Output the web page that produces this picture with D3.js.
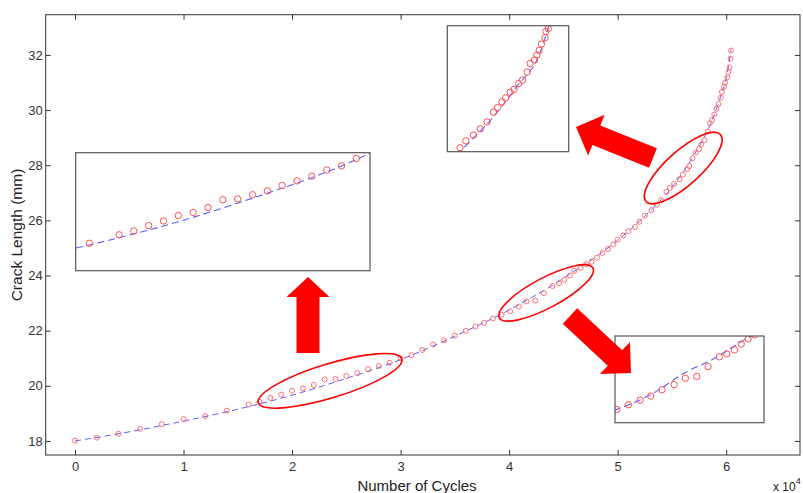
<!DOCTYPE html>
<html>
<head>
<meta charset="utf-8">
<script src="https://cdn.jsdelivr.net/npm/d3@7"></script>
<style>
  body { margin: 0; background: #fff; }
  text { font-family: "Liberation Sans", Arial, sans-serif; }
</style>
</head>
<body>
<svg width="803" height="493"></svg>
<script>
// measured points, cycles in units of 10^4
const cycles = [0, 0.2, 0.4, 0.6, 0.8, 1.0, 1.2, 1.4, 1.6, 1.7, 1.8, 1.9, 2.0, 2.1, 2.2, 2.3, 2.4, 2.5,
  2.6, 2.7, 2.8, 2.9, 3.0, 3.1, 3.2, 3.3, 3.4, 3.5, 3.6, 3.69, 3.77, 3.85, 3.93, 4.01, 4.09, 4.16,
  4.24, 4.32, 4.40, 4.46, 4.51, 4.56, 4.60, 4.66, 4.71, 4.76, 4.81, 4.86, 4.91, 4.96, 5.00, 5.05,
  5.10, 5.16, 5.20, 5.25, 5.31, 5.36, 5.40, 5.45, 5.48, 5.52, 5.57, 5.60, 5.64, 5.66, 5.69, 5.72,
  5.75, 5.77, 5.80, 5.83, 5.85, 5.87, 5.89, 5.91, 5.93, 5.95, 5.96, 5.98, 5.99, 6.01, 6.02, 6.03,
  6.04, 6.045];
const crack = [18.01, 18.12, 18.26, 18.44, 18.61, 18.79, 18.90, 19.10, 19.32, 19.42, 19.56, 19.68, 19.82,
  19.90, 20.03, 20.23, 20.25, 20.36, 20.46, 20.60, 20.72, 20.84, 21.00, 21.11, 21.30, 21.50, 21.65,
  21.82, 21.99, 22.15, 22.28, 22.44, 22.58, 22.70, 22.87, 23.06, 23.09, 23.36, 23.62, 23.72, 23.85,
  24.00, 24.17, 24.27, 24.41, 24.50, 24.65, 24.82, 24.96, 25.13, 25.30, 25.45, 25.61, 25.76, 25.95,
  26.17, 26.37, 26.57, 26.73, 27.04, 27.17, 27.32, 27.49, 27.66, 27.86, 27.97, 28.25, 28.46, 28.59,
  28.75, 28.91, 29.22, 29.52, 29.64, 29.84, 30.05, 30.22, 30.45, 30.66, 30.85, 31.00, 31.19, 31.38,
  31.55, 31.86, 32.16];

// fitted curve
const fitCycles = [0, 0.5, 1.0, 1.5, 2.0, 2.5, 3.0, 3.5, 4.0, 4.5, 5.0, 5.25, 5.5, 5.7, 5.85, 5.95, 6.0, 6.045];
const fitCrack = [18.0, 18.33, 18.72, 19.15, 19.66, 20.27, 20.95, 21.80, 22.75, 23.90, 25.28, 26.15,
  27.20, 28.35, 29.45, 30.50, 31.15, 32.2];

// top inset (zoom near 5.4-5.8)
const inset2Cycles = [5.442, 5.461, 5.486, 5.509, 5.531, 5.552, 5.565, 5.580, 5.592, 5.607, 5.620,
  5.635, 5.648, 5.663, 5.673, 5.687, 5.695, 5.703, 5.710, 5.722, 5.725, 5.733];
const inset2Crack = [26.87, 26.99, 27.09, 27.20, 27.32, 27.49, 27.57, 27.67, 27.74, 27.84, 27.89,
  27.99, 28.05, 28.19, 28.34, 28.40, 28.49, 28.57, 28.68, 28.79, 28.90, 28.95];
const inset2FitCycles = [5.430, 5.552, 5.628, 5.705, 5.736];
const inset2FitCrack = [26.75, 27.41, 27.93, 28.52, 29.02];

// bottom right inset (zoom near 3.9-4.5)
const inset3Cycles = [3.907, 3.954, 4.001, 4.044, 4.089, 4.138, 4.183, 4.229, 4.275, 4.320, 4.350,
  4.381, 4.408, 4.436, 4.462];
const inset3Crack = [22.63, 22.71, 22.79, 22.86, 22.97, 23.06, 23.17, 23.20, 23.37, 23.54, 23.59,
  23.66, 23.76, 23.85, 23.92];
const inset3FitCycles = [3.895, 4.054, 4.183, 4.283, 4.433, 4.48];
const inset3FitCrack = [22.61, 22.91, 23.27, 23.47, 23.86, 23.96];

const xTicks = [0, 1, 2, 3, 4, 5, 6];
const yTicks = [18, 20, 22, 24, 26, 28, 30, 32];

const svg = d3.select("svg");
const plotLeft = 45.7, plotRight = 800, plotTop = 14.7, plotBottom = 455;

const x = d3.scaleLinear().domain([-0.27, 6.68]).range([plotLeft, plotRight]);
const y = d3.scaleLinear().domain([17.49, 33.46]).range([plotBottom, plotTop]);

const points = cycles.map((c, i) => ({ c: c, a: crack[i] }));
const fit = fitCycles.map((c, i) => ({ c: c, a: fitCrack[i] }));

// axes, MATLAB style with inward ticks on all sides
function styleAxis(g) {
  g.select(".domain").remove();
  g.selectAll(".tick line").attr("stroke", "#333");
  g.selectAll(".tick text").attr("fill", "#333").style("font-size", "13px")
    .style("font-family", "'Liberation Sans', Arial, sans-serif");
}

svg.append("g")
  .attr("transform", `translate(0,${plotBottom})`)
  .call(d3.axisBottom(x).tickValues(xTicks).tickFormat(d3.format("d")).tickSize(-5).tickPadding(7))
  .call(styleAxis);
svg.append("g")
  .attr("transform", `translate(0,${plotTop})`)
  .call(d3.axisTop(x).tickValues(xTicks).tickSize(-5).tickFormat(""))
  .call(styleAxis);
svg.append("g")
  .attr("transform", `translate(${plotLeft},0)`)
  .call(d3.axisLeft(y).tickValues(yTicks).tickSize(-5).tickPadding(3))
  .call(styleAxis);
svg.append("g")
  .attr("transform", `translate(${plotRight},0)`)
  .call(d3.axisRight(y).tickValues(yTicks).tickSize(-5).tickFormat(""))
  .call(styleAxis);

svg.append("rect")
  .attr("x", plotLeft).attr("y", plotTop)
  .attr("width", plotRight - plotLeft).attr("height", plotBottom - plotTop)
  .attr("fill", "none").attr("stroke", "#333").attr("stroke-width", 1);

// labels
svg.append("text")
  .attr("x", 417).attr("y", 491)
  .attr("text-anchor", "middle")
  .style("font-size", "15px").attr("fill", "#222")
  .text("Number of Cycles");

svg.append("text")
  .attr("transform", "translate(22,235) rotate(-90)")
  .attr("text-anchor", "middle")
  .style("font-size", "15.5px").attr("fill", "#222")
  .text("Crack Length (mm)");

const exp = svg.append("text").attr("x", 773).attr("y", 491)
  .style("font-size", "12px").attr("fill", "#222");
exp.append("tspan").text("x 10");
exp.append("tspan").attr("dy", -7).style("font-size", "9px").text("4");

// main series
const line = d3.line().x(d => x(d.c)).y(d => y(d.a)).curve(d3.curveMonotoneX);

svg.append("path")
  .datum(fit)
  .attr("d", line)
  .attr("fill", "none")
  .attr("stroke", "#5c5cff")
  .attr("stroke-width", 1)
  .attr("stroke-dasharray", "6,4");

svg.append("g")
  .selectAll("circle")
  .data(points)
  .enter().append("circle")
  .attr("cx", d => x(d.c))
  .attr("cy", d => y(d.a))
  .attr("r", 2.5)
  .attr("fill", "none")
  .attr("stroke", "#ff6060")
  .attr("stroke-width", 0.9);

// insets
function drawInset(id, box, xd, yd, pts, fitPts) {
  const ix = d3.scaleLinear().domain(xd).range([box.x0, box.x1]);
  const iy = d3.scaleLinear().domain(yd).range([box.y1, box.y0]);
  svg.append("clipPath").attr("id", id)
    .append("rect")
    .attr("x", box.x0).attr("y", box.y0)
    .attr("width", box.x1 - box.x0).attr("height", box.y1 - box.y0);
  svg.append("rect")
    .attr("x", box.x0).attr("y", box.y0)
    .attr("width", box.x1 - box.x0).attr("height", box.y1 - box.y0)
    .attr("fill", "#fff");
  const g = svg.append("g").attr("clip-path", `url(#${id})`);
  g.append("path")
    .datum(fitPts)
    .attr("d", d3.line().x(d => ix(d.c)).y(d => iy(d.a)).curve(d3.curveMonotoneX))
    .attr("fill", "none")
    .attr("stroke", "#5c5cff")
    .attr("stroke-width", 1.1)
    .attr("stroke-dasharray", "7,4");
  g.selectAll("circle")
    .data(pts.filter(d => d.c >= xd[0] - 0.05 && d.c <= xd[1] + 0.05))
    .enter().append("circle")
    .attr("cx", d => ix(d.c))
    .attr("cy", d => iy(d.a))
    .attr("r", 3.2)
    .attr("fill", "none")
    .attr("stroke", "#ff5050")
    .attr("stroke-width", 1);
  svg.append("rect")
    .attr("x", box.x0).attr("y", box.y0)
    .attr("width", box.x1 - box.x0).attr("height", box.y1 - box.y0)
    .attr("fill", "none").attr("stroke", "#555").attr("stroke-width", 1.2);
}

drawInset("clip1", { x0: 75.7, x1: 370, y0: 152.7, y1: 270.7 }, [1.308, 3.292], [18.39, 21.45], points, fit);
drawInset("clip2", { x0: 447.3, x1: 568.7, y0: 25.7, y1: 151.7 }, [5.4, 5.8], [26.8, 29.0],
  inset2Cycles.map((c, i) => ({ c: c, a: inset2Crack[i] })),
  inset2FitCycles.map((c, i) => ({ c: c, a: inset2FitCrack[i] })));
drawInset("clip3", { x0: 615, x1: 764, y0: 336, y1: 422.7 }, [3.9, 4.5], [22.4, 23.9],
  inset3Cycles.map((c, i) => ({ c: c, a: inset3Crack[i] })),
  inset3FitCycles.map((c, i) => ({ c: c, a: inset3FitCrack[i] })));

// arrows
function arrowPoints(tail, tip, shaftW, headW, headL) {
  const dx = tip[0] - tail[0], dy = tip[1] - tail[1];
  const len = Math.hypot(dx, dy);
  const ux = dx / len, uy = dy / len, px = -uy, py = ux;
  const bx = tip[0] - ux * headL, by = tip[1] - uy * headL;
  return [
    [tail[0] + px * shaftW / 2, tail[1] + py * shaftW / 2],
    [bx + px * shaftW / 2, by + py * shaftW / 2],
    [bx + px * headW / 2, by + py * headW / 2],
    tip,
    [bx - px * headW / 2, by - py * headW / 2],
    [bx - px * shaftW / 2, by - py * shaftW / 2],
    [tail[0] - px * shaftW / 2, tail[1] - py * shaftW / 2]
  ];
}

const arrows = [
  { tail: [308, 353], tip: [308, 277], shaftW: 23, headW: 43, headL: 20 },
  { tail: [653, 158], tip: [576, 127], shaftW: 21, headW: 44, headL: 22 },
  { tail: [570, 316], tip: [631, 373], shaftW: 21, headW: 44, headL: 22 }
];
svg.append("g")
  .selectAll("polygon")
  .data(arrows)
  .enter().append("polygon")
  .attr("points", d => arrowPoints(d.tail, d.tip, d.shaftW, d.headW, d.headL).join(" "))
  .attr("fill", "#ff0000");

// ellipses around the zoomed regions (centers in data units)
const ellipses = [
  { c: 2.35, a: 20.18, rx: 75, ry: 17, angle: -17 },
  { c: 4.341, a: 23.37, rx: 53, ry: 15, angle: -28 },
  { c: 5.604, a: 27.90, rx: 50, ry: 17, angle: -42 }
];
svg.append("g")
  .selectAll("ellipse")
  .data(ellipses)
  .enter().append("ellipse")
  .attr("transform", d => `translate(${x(d.c)},${y(d.a)}) rotate(${d.angle})`)
  .attr("rx", d => d.rx)
  .attr("ry", d => d.ry)
  .attr("fill", "none")
  .attr("stroke", "#ff0000")
  .attr("stroke-width", 1.6);
</script>
</body>
</html>
